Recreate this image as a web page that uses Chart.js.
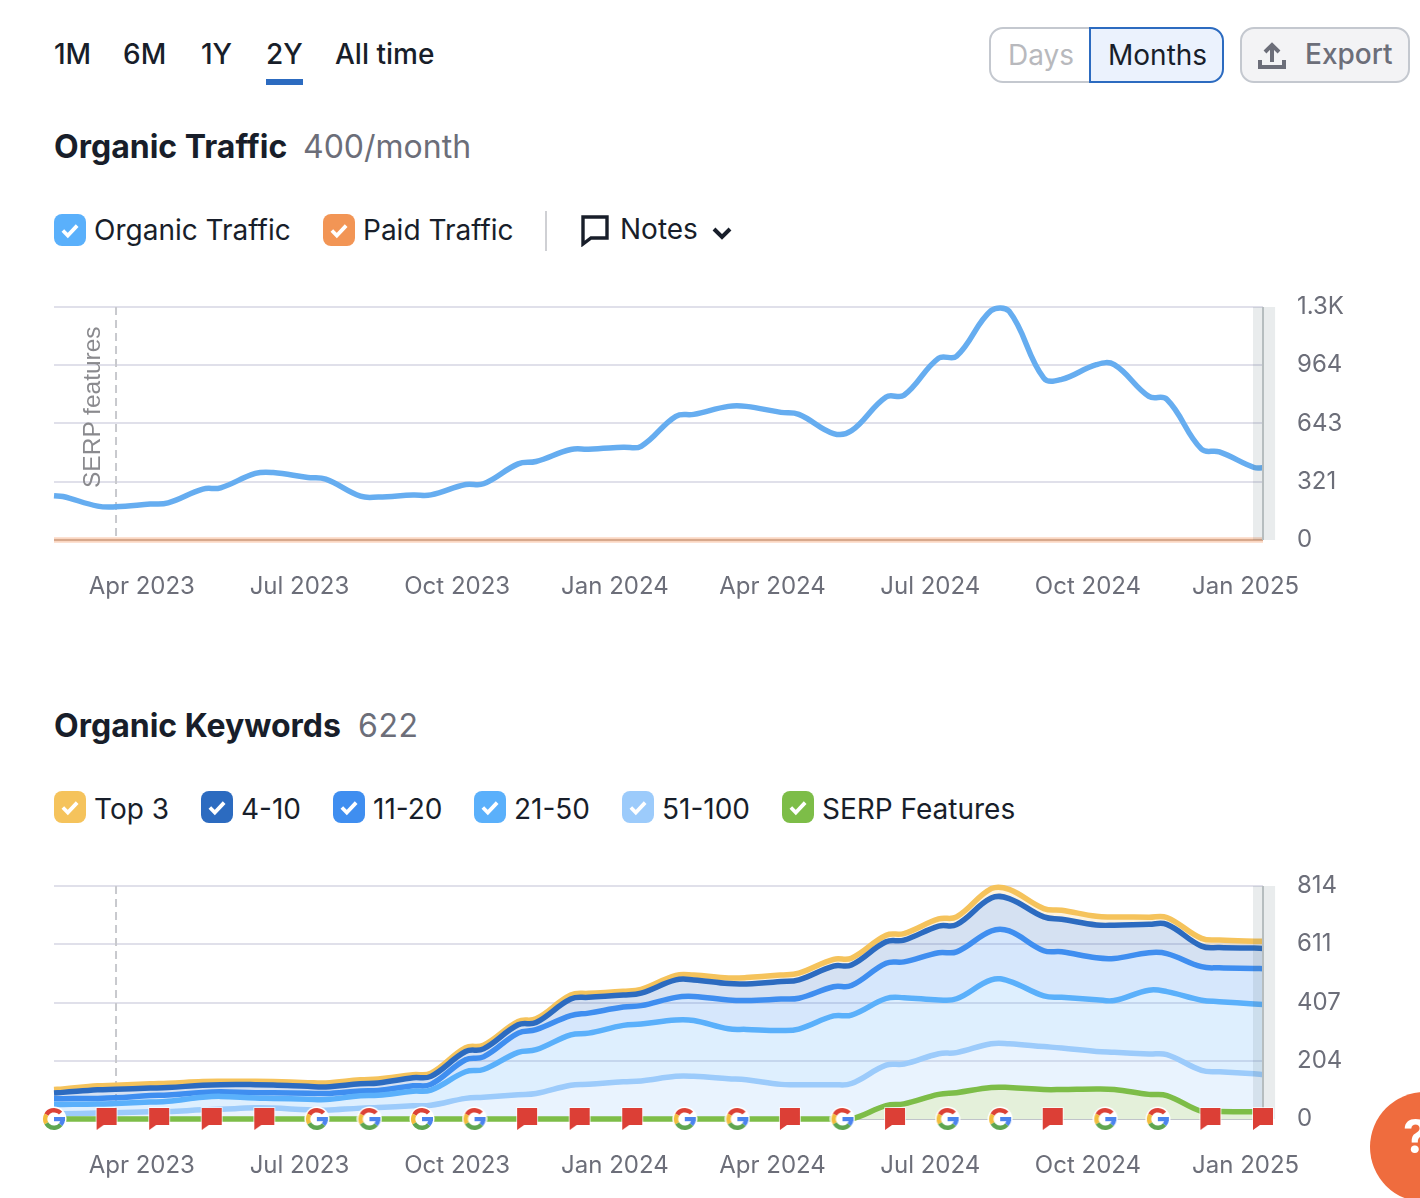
<!DOCTYPE html>
<html>
<head>
<meta charset="utf-8">
<title>Organic Traffic</title>
<script src="https://cdn.jsdelivr.net/npm/chart.js@4"></script>
<style>
  html, body { margin: 0; padding: 0; background: #fff; }
  body { position: relative; width: 1420px; height: 1198px; overflow: hidden; font-family: Inter, sans-serif; color: #181e2a; }
  .abs { position: absolute; white-space: nowrap; line-height: 36px; }
  .tab { top: 36px; font-size: 28px; font-weight: 500; }
  .title { font-size: 32px; font-weight: 700; }
  .sub { font-size: 32px; font-weight: 400; color: #6c6e79; }
  .leg { font-size: 28px; }
  .box { position: absolute; width: 32px; height: 32px; border-radius: 8px; }
  .box svg { position: absolute; left: 5px; top: 5px; }
  canvas { position: absolute; left: 0; }
  .btn { position: absolute; box-sizing: border-box; top: 27px; height: 56px; border: 2px solid #c4c8cf; }
</style>
</head>
<body>
<div class="abs tab" style="left:54px">1M</div>
<div class="abs tab" style="left:123px">6M</div>
<div class="abs tab" style="left:201px">1Y</div>
<div class="abs tab" style="left:266px">2Y</div>
<div class="abs tab" style="left:335px">All time</div>
<div style="position:absolute;left:266px;top:79px;width:37px;height:6px;background:#2c6bc0"></div>

<div class="btn" style="left:989px;width:102px;border-radius:14px 0 0 14px"></div>
<div class="btn" style="left:1089px;width:135px;border-radius:0 14px 14px 0;background:#ebf2fd;border-color:#2c6bc0"></div>
<div class="abs" style="left:1008px;top:37px;font-size:28px;color:#b8b9bd">Days</div>
<div class="abs" style="left:1108px;top:37px;font-size:28px">Months</div>
<div class="btn" style="left:1240px;width:170px;border-radius:14px;background:#f3f3f5"></div>
<svg style="position:absolute;left:1257px;top:41px" width="30" height="30" viewBox="0 0 30 30" fill="none" stroke="#6c6e79" stroke-width="4"><path d="M15 21V5M8 11l7-7 7 7"/><path d="M3 19v7h24v-7"/></svg>
<div class="abs" style="left:1305px;top:36px;font-size:28px;font-weight:500;color:#6c6e79">Export</div>

<div class="abs title" style="left:54px;top:129px">Organic Traffic</div>
<div class="abs sub" style="left:303px;top:129px">400/month</div>

<div class="box" style="left:54px;top:214px;background:#5ab0fb" data-check="1"></div>
<div class="abs leg" style="left:94px;top:212px">Organic Traffic</div>
<div class="box" style="left:323px;top:214px;background:#f29555" data-check="1"></div>
<div class="abs leg" style="left:363px;top:212px">Paid Traffic</div>
<div style="position:absolute;left:545px;top:211px;width:2px;height:40px;background:#cfd0d4"></div>
<svg style="position:absolute;left:581px;top:215px" width="28" height="32" viewBox="0 0 28 32" fill="none" stroke="#181e2a" stroke-width="3.4"><path d="M2 2h24v21H10l-8 6z"/></svg>
<div class="abs leg" style="left:620px;top:211px">Notes</div>
<svg style="position:absolute;left:711px;top:226px" width="22" height="14" viewBox="0 0 22 14" fill="none" stroke="#181e2a" stroke-width="4"><path d="M3 3l8 8 8-8"/></svg>

<canvas id="trafficChart" width="1420" height="340" style="top:270px"></canvas>
<div class="abs" style="left:62px;top:390px;width:60px;text-align:center;font:24.5px 'Liberation Sans';line-height:36px;color:#8a8a8e;transform:rotate(-90deg);transform-origin:center" id="serpNote">SERP features</div>

<div class="abs title" style="left:54px;top:708px">Organic Keywords</div>
<div class="abs sub" style="left:358px;top:708px;letter-spacing:0.6px">622</div>

<div class="box" style="left:54px;top:791px;background:#f5c35c" data-check="1"></div>
<div class="abs leg" style="left:94px;top:791px">Top 3</div>
<div class="box" style="left:201px;top:791px;background:#2c6bc0" data-check="1"></div>
<div class="abs leg" style="left:241px;top:791px">4-10</div>
<div class="box" style="left:333px;top:791px;background:#3f8ef0" data-check="1"></div>
<div class="abs leg" style="left:373px;top:791px">11-20</div>
<div class="box" style="left:474px;top:791px;background:#5ab0fb" data-check="1"></div>
<div class="abs leg" style="left:514px;top:791px">21-50</div>
<div class="box" style="left:622px;top:791px;background:#9ccbfb" data-check="1"></div>
<div class="abs leg" style="left:662px;top:791px">51-100</div>
<div class="box" style="left:782px;top:791px;background:#7dbd48" data-check="1"></div>
<div class="abs leg" style="left:822px;top:791px">SERP Features</div>

<canvas id="keywordsChart" width="1420" height="340" style="top:849px"></canvas>

<div style="position:absolute;left:1370px;top:1092px;width:110px;height:110px;border-radius:50%;background:#ef6c3e"></div>
<div class="abs" style="left:1403px;top:1118px;font-size:46px;font-weight:700;color:#fff">?</div>

<script>
// sample positions in months from Feb 2023: both ends of each month's plateau
const sampleMonths = [0, 0.17, 0.83, 1.17, 1.83, 2.17, 2.83, 3.17, 3.83, 4.17, 4.83, 5.17, 5.83, 6.17, 6.83, 7.17, 7.83, 8.17, 8.83, 9.17, 9.83, 10.17, 10.83, 11.17, 11.83, 12.17, 12.83, 13.17, 13.83, 14.17, 14.83, 15.17, 15.83, 16.17, 16.83, 17.17, 17.83, 18.17, 18.83, 19.17, 19.83, 20.17, 20.83, 21.17, 21.83, 22.17, 22.83, 23];

const organicTraffic = [244, 240, 187, 183, 198, 205, 281, 288, 367, 372, 345, 336, 242, 237, 248, 249, 306, 310, 420, 433, 499, 501, 512, 517, 682, 693, 737, 737, 704, 693, 587, 602, 789, 798, 1003, 1013, 1266, 1262, 893, 886, 967, 967, 792, 776, 501, 486, 400, 398];
const paidTraffic = [0, 0, 0, 0, 0, 0, 0, 0, 0, 0, 0, 0, 0, 0, 0, 0, 0, 0, 0, 0, 0, 0, 0, 0, 0, 0, 0, 0, 0, 0, 0, 0, 0, 0, 0, 0, 0, 0, 0, 0, 0, 0, 0, 0, 0, 0, 0, 0];

const top3 = [103, 105, 116, 118, 123, 125, 131, 132, 132, 131, 127, 126, 137, 140, 155, 160, 249, 258, 341, 350, 433, 439, 446, 453, 502, 503, 493, 494, 503, 510, 558, 562, 642, 648, 699, 706, 805, 802, 735, 729, 708, 706, 705, 704, 631, 625, 621, 621];
const pos4to10 = [91, 93, 102, 104, 108, 110, 118, 120, 120, 119, 114, 112, 123, 126, 144, 149, 236, 245, 329, 337, 419, 425, 433, 440, 486, 486, 473, 472, 480, 486, 534, 538, 619, 625, 674, 679, 772, 770, 706, 698, 678, 677, 680, 680, 604, 599, 597, 596];
const pos11to20 = [71, 71, 72, 74, 82, 84, 93, 95, 92, 92, 90, 89, 98, 100, 116, 121, 207, 217, 300, 312, 361, 370, 391, 396, 425, 428, 416, 414, 419, 422, 462, 466, 544, 549, 581, 584, 657, 657, 588, 584, 563, 561, 581, 578, 532, 528, 526, 525];
const pos21to50 = [51, 51, 52, 54, 59, 62, 76, 79, 73, 72, 69, 68, 81, 83, 97, 101, 165, 173, 233, 242, 294, 300, 327, 332, 346, 344, 315, 313, 309, 314, 360, 363, 421, 424, 416, 420, 486, 482, 430, 425, 417, 414, 450, 445, 415, 410, 402, 400];
const pos51to100 = [18, 18, 21, 22, 25, 26, 32, 34, 39, 38, 32, 31, 38, 40, 46, 48, 72, 76, 85, 89, 118, 121, 130, 133, 149, 149, 141, 137, 121, 120, 120, 124, 188, 192, 228, 232, 263, 263, 253, 248, 236, 233, 227, 225, 170, 165, 158, 155];
const serpFeatures = [0, 0, 0, 0, 0, 0, 0, 0, 0, 0, 0, 0, 0, 0, 0, 0, 0, 0, 0, 0, 0, 0, 0, 0, 0, 0, 0, 0, 0, 0, 0, 0, 47, 53, 86, 92, 110, 110, 103, 103, 105, 103, 86, 82, 27, 26, 25, 23];

// one marker per month on the keywords chart
const eventKinds = ['g', 'f', 'f', 'f', 'f', 'g', 'g', 'g', 'g', 'f', 'f', 'f', 'g', 'g', 'f', 'g', 'f', 'g', 'g', 'f', 'g', 'g', 'f', 'f'];

const xTickValues = [1.67, 4.67, 7.67, 10.67, 13.67, 16.67, 19.67, 22.67];
const xTickLabels = ['Apr 2023', 'Jul 2023', 'Oct 2023', 'Jan 2024', 'Apr 2024', 'Jul 2024', 'Oct 2024', 'Jan 2025'];
const trafficTickValues = [0, 321, 643, 964, 1285];
const trafficTickLabels = ['0', '321', '643', '964', '1.3K'];
const keywordsTickValues = [0, 204, 407, 611, 814];
const keywordsTickLabels = ['0', '204', '407', '611', '814'];

const serpLineMonth = 1.18;
const lastMonth = 23;

function toPoints(values) {
    return values.map((v, i) => ({ x: sampleMonths[i], y: v }));
}

// checkmarks in legend boxes
document.querySelectorAll('[data-check]').forEach(el => {
    el.innerHTML = '<svg width="22" height="22" viewBox="0 0 20 20" fill="none" stroke="#fff" stroke-width="3.4"><path d="M3.5 10.5l4.5 4.5 8.5-9"/></svg>';
});
document.getElementById('serpNote').style.top = '440px';

function makeGoogleIcon() {
    const c = document.createElement('canvas');
    c.width = 26; c.height = 26;
    const g = c.getContext('2d');
    g.fillStyle = '#fff';
    g.beginPath(); g.arc(13, 13, 12.5, 0, Math.PI * 2); g.fill();
    g.lineWidth = 4.4;
    const arcs = [['#dc4236', -150, -42], ['#f2bd3d', 150, 210], ['#5ea650', 40, 150], ['#4c84ee', 0, 40]];
    arcs.forEach(a => {
        g.strokeStyle = a[0];
        g.beginPath();
        g.arc(13, 13, 8.8, a[1] * Math.PI / 180, a[2] * Math.PI / 180);
        g.stroke();
    });
    g.fillStyle = '#4c84ee';
    g.fillRect(13, 11, 11, 4.2);
    return c;
}

function makeFlagIcon() {
    const c = document.createElement('canvas');
    c.width = 26; c.height = 26;
    const g = c.getContext('2d');
    g.beginPath();
    g.moveTo(3, 2); g.lineTo(23, 2); g.lineTo(23, 19); g.lineTo(10, 19); g.lineTo(3, 24); g.closePath();
    g.fillStyle = '#dc3f36';
    g.strokeStyle = 'rgba(255,255,255,0.9)';
    g.lineWidth = 1.5;
    g.stroke();
    g.fill();
    return c;
}

const googleIcon = makeGoogleIcon();
const flagIcon = makeFlagIcon();

// dashed SERP line, right shaded band
function guidesPlugin(bandAfterIndex) {
    return {
        id: 'guides',
        beforeDatasetsDraw(chart) {
            const { ctx, chartArea, scales } = chart;
            const x = scales.x.getPixelForValue(serpLineMonth);
            ctx.save();
            ctx.strokeStyle = '#c8c9ce';
            ctx.lineWidth = 2;
            ctx.setLineDash([8, 5]);
            ctx.beginPath();
            ctx.moveTo(x, chartArea.top);
            ctx.lineTo(x, chartArea.bottom);
            ctx.stroke();
            ctx.restore();
        },
        afterDatasetDraw(chart, args) {
            if (args.index !== bandAfterIndex) return;
            const { ctx, chartArea, scales } = chart;
            const x0 = scales.x.getPixelForValue(lastMonth - 0.19);
            const x1 = scales.x.getPixelForValue(lastMonth + 0.23);
            const xEnd = scales.x.getPixelForValue(lastMonth);
            ctx.save();
            ctx.fillStyle = 'rgba(70,95,105,0.12)';
            ctx.fillRect(x0, chartArea.top, x1 - x0, chartArea.bottom - chartArea.top);
            ctx.fillStyle = '#b6bdbf';
            ctx.fillRect(xEnd - 1, chartArea.top, 2, chartArea.bottom - chartArea.top);
            ctx.restore();
        }
    };
}

function lineSet(values, color, fillTarget, fillColor) {
    return {
        data: toPoints(values),
        borderColor: color,
        borderWidth: 5.5,
        pointRadius: 0,
        tension: 0.4,
        fill: fillTarget ? { target: fillTarget, above: fillColor, below: fillColor } : false,
        clip: false
    };
}

function buildOptions(tickValues, tickLabels, yMax, zeroColor) {
    return {
        responsive: false,
        animation: false,
        events: [],
        layout: { padding: { left: 54, top: 37, right: 0, bottom: 0 } },
        plugins: { legend: { display: false }, tooltip: { enabled: false } },
        scales: {
            x: {
                type: 'linear',
                min: 0,
                max: lastMonth,
                grid: { display: false },
                border: { display: false },
                afterBuildTicks: s => { s.ticks = xTickValues.map(v => ({ value: v })); },
                afterFit: s => { s.height = 70; },
                ticks: {
                    autoSkip: false,
                    maxRotation: 0,
                    padding: 24,
                    color: '#6c6e79',
                    font: { family: 'Inter', size: 24 },
                    callback: (v, i) => xTickLabels[i]
                }
            },
            y: {
                position: 'right',
                min: 0,
                max: yMax,
                border: { display: false },
                grid: {
                    color: c => (c.tick && c.tick.value === 0 ? zeroColor : '#e0e0ea'),
                    lineWidth: 2,
                    drawTicks: false
                },
                afterBuildTicks: s => { s.ticks = tickValues.map(v => ({ value: v })); },
                // tick padding would otherwise push the plot area down
                afterFit: s => { s.width = 157; s.paddingTop = 0; s.paddingBottom = 0; },
                ticks: {
                    padding: 34,
                    color: '#6c6e79',
                    font: { family: 'Inter', size: 24 },
                    callback: (v, i) => tickLabels[i]
                }
            }
        }
    };
}

document.addEventListener('DOMContentLoaded', function() {
    new Chart(document.getElementById('trafficChart'), {
        type: 'line',
        data: {
            datasets: [
                lineSet(organicTraffic, '#66adf0'),
                lineSet(paidTraffic, 'rgba(240,140,80,0.35)')
            ]
        },
        options: buildOptions(trafficTickValues, trafficTickLabels, 1285, '#c9b7ac'),
        plugins: [guidesPlugin(0)]
    });

    new Chart(document.getElementById('keywordsChart'), {
        type: 'line',
        data: {
            datasets: [
                {
                    data: eventKinds.map((k, i) => ({ x: i, y: 0 })),
                    showLine: false,
                    pointRadius: 13,
                    pointStyle: eventKinds.map(k => (k === 'g' ? googleIcon : flagIcon)),
                    clip: false
                },
                lineSet(serpFeatures, '#7dbd48', 'origin', '#e4f0da'),
                lineSet(pos51to100, '#9ccbfb', 'origin', 'rgba(155,200,250,0.22)'),
                lineSet(pos21to50, '#5ab0fb', '-1', 'rgba(90,175,250,0.2)'),
                lineSet(pos11to20, '#3f8ef0', '-1', 'rgba(61,142,243,0.21)'),
                lineSet(pos4to10, '#2c6bc0', '-1', 'rgba(44,107,190,0.2)'),
                lineSet(top3, '#f5c35c', '-1', 'rgba(245,195,90,0.2)')
            ]
        },
        options: buildOptions(keywordsTickValues, keywordsTickLabels, 814, '#c0c4ca'),
        plugins: [guidesPlugin(1)]
    });
});
</script>
</body>
</html>
